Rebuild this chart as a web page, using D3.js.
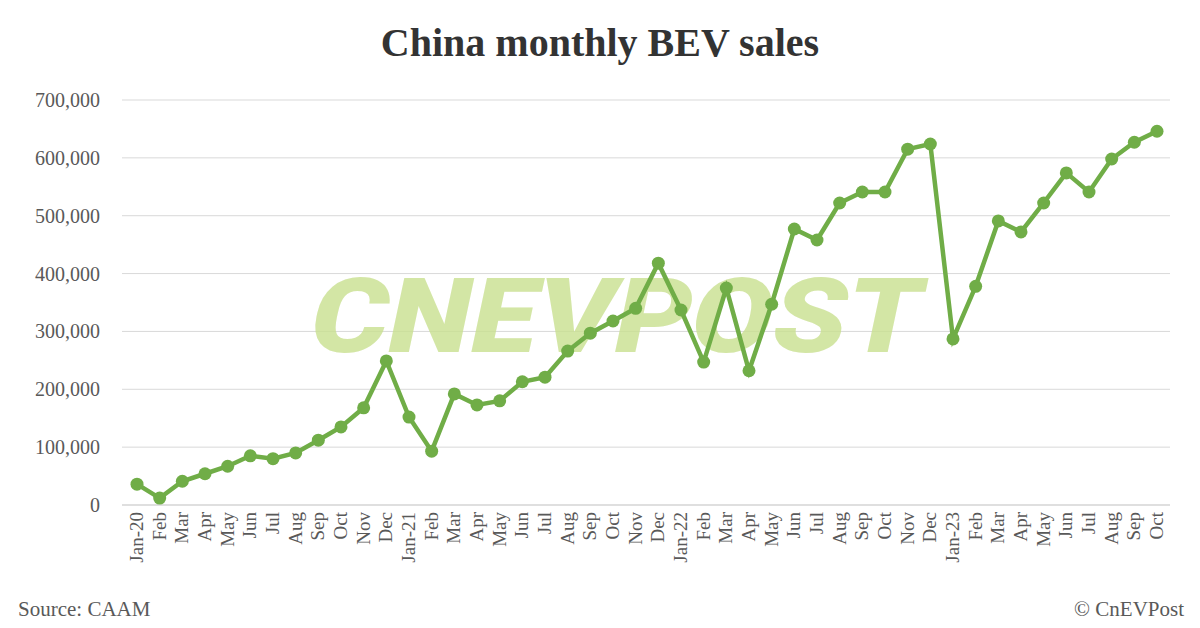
<!DOCTYPE html><html><head><meta charset="utf-8">
<script src="https://cdn.jsdelivr.net/npm/d3@7"></script>
<style>body{margin:0;background:#fff}svg{font-family:"Liberation Serif","Times New Roman",serif}</style>
</head><body><svg id="c" width="1200" height="628"></svg>
<script>
const months=["Jan-20","Feb","Mar","Apr","May","Jun","Jul","Aug","Sep","Oct","Nov","Dec","Jan-21","Feb","Mar","Apr","May","Jun","Jul","Aug","Sep","Oct","Nov","Dec","Jan-22","Feb","Mar","Apr","May","Jun","Jul","Aug","Sep","Oct","Nov","Dec","Jan-23","Feb","Mar","Apr","May","Jun","Jul","Aug","Sep","Oct"];
const sales=[36000,12000,41000,54000,67000,85000,80000,90000,112000,135000,168000,249000,152000,93000,192000,173000,180000,213000,221000,266000,297000,318000,340000,418000,337000,247000,375000,232000,347000,477000,458000,522000,541000,541000,615000,624000,287000,378000,491000,472000,522000,574000,541000,598000,627000,646000];
const yTicks=[0,100000,200000,300000,400000,500000,600000,700000];
const svg=d3.select("#c");
const x=d3.scalePoint().domain(d3.range(months.length)).range([137,1157]);
const y=d3.scaleLinear().domain([0,700000]).range([505,100]);
svg.append("text").attr("x",600).attr("y",56).attr("text-anchor","middle").attr("font-size",40).attr("font-weight","bold").attr("fill","#333").text("China monthly BEV sales");
svg.append("g").selectAll("line").data(yTicks.slice(1)).join("line").attr("x1",122).attr("x2",1170).attr("y1",d=>y(d)).attr("y2",d=>y(d)).attr("stroke","#d9d9d9");
svg.append("line").attr("x1",122).attr("x2",1170).attr("y1",y(0)).attr("y2",y(0)).attr("stroke","#bfbfbf");
svg.append("g").selectAll("text").data(yTicks).join("text").attr("x",100).attr("y",d=>y(d)+7).attr("text-anchor","end").attr("font-size",20).attr("fill","#595959").text(d3.format(","));
svg.append("text").attr("transform","translate(610,352) skewX(-12)").attr("text-anchor","middle").attr("font-family","Roboto, sans-serif").attr("font-size",104).attr("font-weight","900").attr("fill","#c9e08f").attr("opacity",0.8).attr("textLength",610).attr("lengthAdjust","spacingAndGlyphs").text("CNEVPOST");
svg.append("g").selectAll("text").data(months).join("text").attr("transform",(d,i)=>`translate(${x(i)+6},512) rotate(-90)`).attr("text-anchor","end").attr("font-size",19).attr("fill","#595959").text(d=>d);
svg.append("path").datum(sales).attr("fill","none").attr("stroke","#70ad47").attr("stroke-width",4.5).attr("d",d3.line().x((d,i)=>x(i)).y(d=>y(d)));
svg.append("g").selectAll("circle").data(sales).join("circle").attr("cx",(d,i)=>x(i)).attr("cy",d=>y(d)).attr("r",6.5).attr("fill","#70ad47");
svg.append("text").attr("x",18).attr("y",616).attr("font-size",21).attr("fill","#595959").text("Source: CAAM");
svg.append("text").attr("x",1184).attr("y",616).attr("text-anchor","end").attr("font-size",21).attr("fill","#595959").text("© CnEVPost");
</script></body></html>
